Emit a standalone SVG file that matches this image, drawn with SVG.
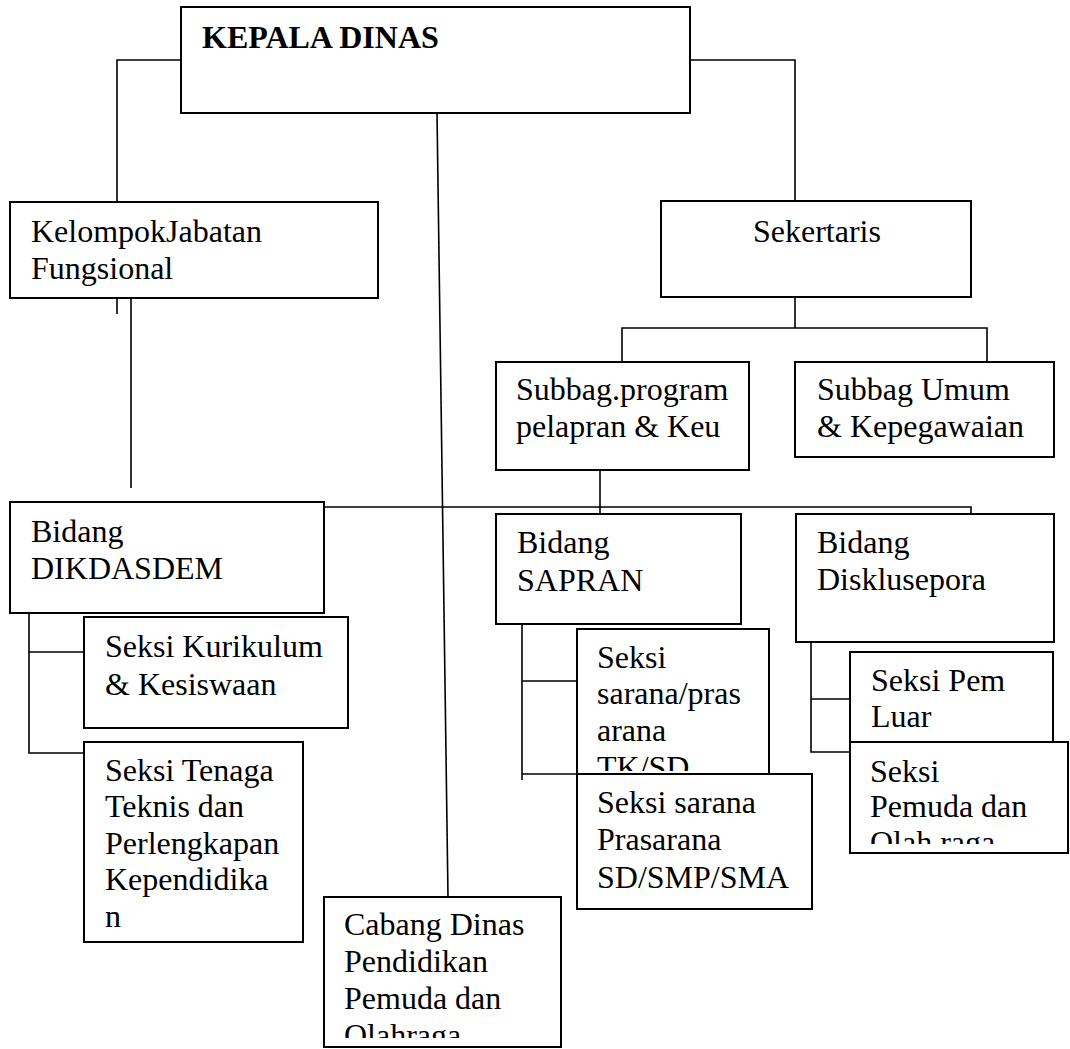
<svg xmlns="http://www.w3.org/2000/svg" width="1070" height="1049" viewBox="0 0 1070 1049">
<style>
  .box { fill: #ffffff; stroke: #000000; stroke-width: 2; }
  .ln { fill: none; stroke: #000000; stroke-width: 1.6; }
  text { font-family: "Liberation Serif", "Times New Roman", serif; font-size: 32px; fill: #000000; }
  .b { font-weight: bold; }
</style>
<defs>
  <clipPath id="clipSarana"><rect x="578" y="630" width="190" height="141"/></clipPath>
  <clipPath id="clipPemuda"><rect x="851" y="743" width="216" height="101"/></clipPath>
  <clipPath id="clipCabang"><rect x="325" y="898" width="235" height="140"/></clipPath>
</defs>
<rect width="1070" height="1049" fill="#ffffff"/>

<g id="connectors">
  <polyline class="ln" points="181,60 117,60 117,202"/>
  <polyline class="ln" points="690,60 795,60 795,201"/>
  <line class="ln" x1="437" y1="113" x2="448" y2="897"/>
  <line class="ln" x1="117" y1="298" x2="117" y2="314"/>
  <line class="ln" x1="131" y1="298" x2="131" y2="488"/>
  <line class="ln" x1="795" y1="297" x2="795" y2="328"/>
  <polyline class="ln" points="622,362 622,328 987,328 987,362"/>
  <line class="ln" x1="600" y1="470" x2="600" y2="514"/>
  <polyline class="ln" points="324,507 971,507 971,514"/>
  <polyline class="ln" points="84,652 29,652 29,613"/>
  <polyline class="ln" points="29,652 29,753 84,753"/>
  <polyline class="ln" points="522,625 522,780"/>
  <line class="ln" x1="522" y1="681" x2="577" y2="681"/>
  <line class="ln" x1="522" y1="774" x2="577" y2="774"/>
  <polyline class="ln" points="811,642 811,752 850,752"/>
  <line class="ln" x1="811" y1="699" x2="850" y2="699"/>
</g>

<g id="kepala-dinas">
  <rect class="box" x="181" y="7" width="509" height="106"/>
  <text class="b" x="202" y="48">KEPALA DINAS</text>
</g>

<g id="kelompok-jabatan">
  <rect class="box" x="10" y="202" width="368" height="96"/>
  <text x="31" y="242">KelompokJabatan</text>
  <text x="31" y="279">Fungsional</text>
</g>

<g id="sekertaris">
  <rect class="box" x="661" y="201" width="310" height="96"/>
  <text x="753" y="242">Sekertaris</text>
</g>

<g id="subbag-program">
  <rect class="box" x="496" y="362" width="253" height="108"/>
  <text x="516" y="400">Subbag.program</text>
  <text x="516" y="437">pelapran &amp; Keu</text>
</g>

<g id="subbag-umum">
  <rect class="box" x="795" y="362" width="259" height="95"/>
  <text x="817" y="400">Subbag Umum</text>
  <text x="817" y="437">&amp; Kepegawaian</text>
</g>

<g id="bidang-dikdasdem">
  <rect class="box" x="10" y="502" width="314" height="111"/>
  <text x="31" y="542">Bidang</text>
  <text x="31" y="579">DIKDASDEM</text>
</g>

<g id="bidang-sapran">
  <rect class="box" x="496" y="514" width="245" height="110"/>
  <text x="517" y="553">Bidang</text>
  <text x="517" y="591">SAPRAN</text>
</g>

<g id="bidang-disklusepora">
  <rect class="box" x="796" y="514" width="258" height="128"/>
  <text x="817" y="553">Bidang</text>
  <text x="817" y="590">Disklusepora</text>
</g>

<g id="seksi-kurikulum">
  <rect class="box" x="84" y="617" width="264" height="111"/>
  <text x="105" y="657">Seksi Kurikulum</text>
  <text x="105" y="695">&amp; Kesiswaan</text>
</g>

<g id="seksi-tenaga">
  <rect class="box" x="84" y="742" width="219" height="200"/>
  <text x="105" y="781">Seksi Tenaga</text>
  <text x="105" y="817">Teknis dan</text>
  <text x="105" y="854">Perlengkapan</text>
  <text x="105" y="890">Kependidika</text>
  <text x="105" y="927">n</text>
</g>

<g id="seksi-sarana-tksd">
  <rect class="box" x="577" y="629" width="192" height="160"/>
  <g clip-path="url(#clipSarana)">
    <text x="597" y="668">Seksi</text>
    <text x="597" y="704">sarana/pras</text>
    <text x="597" y="741">arana</text>
    <text x="597" y="778">TK/SD</text>
  </g>
</g>

<g id="seksi-sarana-sdsmpsma">
  <rect class="box" x="577" y="774" width="235" height="135"/>
  <text x="597" y="813">Seksi sarana</text>
  <text x="597" y="850">Prasarana</text>
  <text x="597" y="888">SD/SMP/SMA</text>
</g>

<g id="seksi-pem-luar">
  <rect class="box" x="850" y="652" width="203" height="100"/>
  <text x="871" y="691">Seksi Pem</text>
  <text x="871" y="727">Luar</text>
</g>

<g id="seksi-pemuda">
  <rect class="box" x="850" y="742" width="218" height="111"/>
  <g clip-path="url(#clipPemuda)">
    <text x="870" y="782">Seksi</text>
    <text x="870" y="817">Pemuda dan</text>
    <text x="870" y="853">Olah raga</text>
  </g>
</g>

<g id="cabang-dinas">
  <rect class="box" x="324" y="897" width="237" height="150"/>
  <g clip-path="url(#clipCabang)">
    <text x="344" y="935">Cabang Dinas</text>
    <text x="344" y="972">Pendidikan</text>
    <text x="344" y="1009">Pemuda dan</text>
    <text x="344" y="1046">Olahraga</text>
  </g>
</g>
</svg>
